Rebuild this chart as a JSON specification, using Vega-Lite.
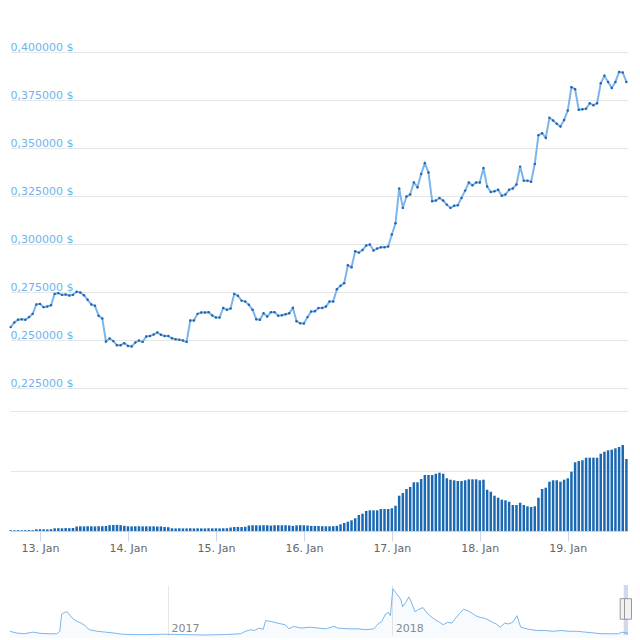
{
  "$schema": "https://vega.github.io/schema/vega-lite/v6.json",
  "padding": {"left": 6, "top": 33, "right": 12, "bottom": 0},
  "config": {
    "view": {"stroke": null},
    "font": "DejaVu Sans",
    "axis": {"labelFont": "DejaVu Sans", "labelFontSize": 11, "gridColor": "#e6e6e6", "gridWidth": 1, "minExtent": 0},
    "scale": {"continuousPadding": 0}
  },
  "datasets": {
    "main": [
      {"t":"2019-01-12T16:00","p":0.2568,"v":80000},
      {"t":"2019-01-12T17:00","p":0.2592,"v":70000},
      {"t":"2019-01-12T18:00","p":0.2606,"v":80000},
      {"t":"2019-01-12T19:00","p":0.2609,"v":70000},
      {"t":"2019-01-12T20:00","p":0.2606,"v":80000},
      {"t":"2019-01-12T21:00","p":0.2620,"v":90000},
      {"t":"2019-01-12T22:00","p":0.2637,"v":80000},
      {"t":"2019-01-12T23:00","p":0.2686,"v":170000},
      {"t":"2019-01-13T00:00","p":0.2689,"v":180000},
      {"t":"2019-01-13T01:00","p":0.2672,"v":170000},
      {"t":"2019-01-13T02:00","p":0.2675,"v":160000},
      {"t":"2019-01-13T03:00","p":0.2682,"v":180000},
      {"t":"2019-01-13T04:00","p":0.2741,"v":270000},
      {"t":"2019-01-13T05:00","p":0.2745,"v":280000},
      {"t":"2019-01-13T06:00","p":0.2736,"v":270000},
      {"t":"2019-01-13T07:00","p":0.2738,"v":290000},
      {"t":"2019-01-13T08:00","p":0.2733,"v":280000},
      {"t":"2019-01-13T09:00","p":0.2736,"v":300000},
      {"t":"2019-01-13T10:00","p":0.2752,"v":450000},
      {"t":"2019-01-13T11:00","p":0.2748,"v":470000},
      {"t":"2019-01-13T12:00","p":0.2734,"v":460000},
      {"t":"2019-01-13T13:00","p":0.2710,"v":480000},
      {"t":"2019-01-13T14:00","p":0.2686,"v":470000},
      {"t":"2019-01-13T15:00","p":0.2679,"v":460000},
      {"t":"2019-01-13T16:00","p":0.2627,"v":480000},
      {"t":"2019-01-13T17:00","p":0.2613,"v":470000},
      {"t":"2019-01-13T18:00","p":0.2493,"v":500000},
      {"t":"2019-01-13T19:00","p":0.2509,"v":580000},
      {"t":"2019-01-13T20:00","p":0.2495,"v":600000},
      {"t":"2019-01-13T21:00","p":0.2474,"v":610000},
      {"t":"2019-01-13T22:00","p":0.2474,"v":590000},
      {"t":"2019-01-13T23:00","p":0.2484,"v":520000},
      {"t":"2019-01-14T00:00","p":0.2470,"v":470000},
      {"t":"2019-01-14T01:00","p":0.2467,"v":460000},
      {"t":"2019-01-14T02:00","p":0.2488,"v":470000},
      {"t":"2019-01-14T03:00","p":0.2498,"v":480000},
      {"t":"2019-01-14T04:00","p":0.2491,"v":460000},
      {"t":"2019-01-14T05:00","p":0.2519,"v":470000},
      {"t":"2019-01-14T06:00","p":0.2522,"v":460000},
      {"t":"2019-01-14T07:00","p":0.2529,"v":470000},
      {"t":"2019-01-14T08:00","p":0.2540,"v":450000},
      {"t":"2019-01-14T09:00","p":0.2528,"v":460000},
      {"t":"2019-01-14T10:00","p":0.2522,"v":400000},
      {"t":"2019-01-14T11:00","p":0.2522,"v":380000},
      {"t":"2019-01-14T12:00","p":0.2510,"v":270000},
      {"t":"2019-01-14T13:00","p":0.2505,"v":260000},
      {"t":"2019-01-14T14:00","p":0.2502,"v":270000},
      {"t":"2019-01-14T15:00","p":0.2498,"v":260000},
      {"t":"2019-01-14T16:00","p":0.2491,"v":260000},
      {"t":"2019-01-14T17:00","p":0.2602,"v":270000},
      {"t":"2019-01-14T18:00","p":0.2602,"v":260000},
      {"t":"2019-01-14T19:00","p":0.2637,"v":270000},
      {"t":"2019-01-14T20:00","p":0.2644,"v":260000},
      {"t":"2019-01-14T21:00","p":0.2644,"v":260000},
      {"t":"2019-01-14T22:00","p":0.2646,"v":270000},
      {"t":"2019-01-14T23:00","p":0.2628,"v":260000},
      {"t":"2019-01-15T00:00","p":0.2618,"v":270000},
      {"t":"2019-01-15T01:00","p":0.2618,"v":260000},
      {"t":"2019-01-15T02:00","p":0.2668,"v":270000},
      {"t":"2019-01-15T03:00","p":0.2658,"v":280000},
      {"t":"2019-01-15T04:00","p":0.2665,"v":350000},
      {"t":"2019-01-15T05:00","p":0.2741,"v":400000},
      {"t":"2019-01-15T06:00","p":0.2731,"v":410000},
      {"t":"2019-01-15T07:00","p":0.2706,"v":400000},
      {"t":"2019-01-15T08:00","p":0.2701,"v":420000},
      {"t":"2019-01-15T09:00","p":0.2684,"v":550000},
      {"t":"2019-01-15T10:00","p":0.2658,"v":580000},
      {"t":"2019-01-15T11:00","p":0.2609,"v":570000},
      {"t":"2019-01-15T12:00","p":0.2606,"v":560000},
      {"t":"2019-01-15T13:00","p":0.2640,"v":580000},
      {"t":"2019-01-15T14:00","p":0.2623,"v":570000},
      {"t":"2019-01-15T15:00","p":0.2646,"v":540000},
      {"t":"2019-01-15T16:00","p":0.2646,"v":580000},
      {"t":"2019-01-15T17:00","p":0.2627,"v":580000},
      {"t":"2019-01-15T18:00","p":0.2630,"v":570000},
      {"t":"2019-01-15T19:00","p":0.2635,"v":580000},
      {"t":"2019-01-15T20:00","p":0.2640,"v":560000},
      {"t":"2019-01-15T21:00","p":0.2668,"v":510000},
      {"t":"2019-01-15T22:00","p":0.2599,"v":570000},
      {"t":"2019-01-15T23:00","p":0.2588,"v":580000},
      {"t":"2019-01-16T00:00","p":0.2587,"v":570000},
      {"t":"2019-01-16T01:00","p":0.2620,"v":540000},
      {"t":"2019-01-16T02:00","p":0.2649,"v":510000},
      {"t":"2019-01-16T03:00","p":0.2651,"v":500000},
      {"t":"2019-01-16T04:00","p":0.2668,"v":500000},
      {"t":"2019-01-16T05:00","p":0.2668,"v":480000},
      {"t":"2019-01-16T06:00","p":0.2675,"v":470000},
      {"t":"2019-01-16T07:00","p":0.2701,"v":470000},
      {"t":"2019-01-16T08:00","p":0.2701,"v":480000},
      {"t":"2019-01-16T09:00","p":0.2765,"v":520000},
      {"t":"2019-01-16T10:00","p":0.2783,"v":670000},
      {"t":"2019-01-16T11:00","p":0.2797,"v":800000},
      {"t":"2019-01-16T12:00","p":0.2890,"v":930000},
      {"t":"2019-01-16T13:00","p":0.2880,"v":1070000},
      {"t":"2019-01-16T14:00","p":0.2963,"v":1270000},
      {"t":"2019-01-16T15:00","p":0.2956,"v":1600000},
      {"t":"2019-01-16T16:00","p":0.2970,"v":1730000},
      {"t":"2019-01-16T17:00","p":0.2993,"v":2000000},
      {"t":"2019-01-16T18:00","p":0.2998,"v":2070000},
      {"t":"2019-01-16T19:00","p":0.2967,"v":2070000},
      {"t":"2019-01-16T20:00","p":0.2977,"v":2070000},
      {"t":"2019-01-16T21:00","p":0.2984,"v":2200000},
      {"t":"2019-01-16T22:00","p":0.2984,"v":2200000},
      {"t":"2019-01-16T23:00","p":0.2988,"v":2200000},
      {"t":"2019-01-17T00:00","p":0.3050,"v":2270000},
      {"t":"2019-01-17T01:00","p":0.3109,"v":2530000},
      {"t":"2019-01-17T02:00","p":0.3290,"v":3530000},
      {"t":"2019-01-17T03:00","p":0.3189,"v":3800000},
      {"t":"2019-01-17T04:00","p":0.3248,"v":4200000},
      {"t":"2019-01-17T05:00","p":0.3259,"v":4400000},
      {"t":"2019-01-17T06:00","p":0.3321,"v":4870000},
      {"t":"2019-01-17T07:00","p":0.3297,"v":4870000},
      {"t":"2019-01-17T08:00","p":0.3366,"v":5200000},
      {"t":"2019-01-17T09:00","p":0.3422,"v":5600000},
      {"t":"2019-01-17T10:00","p":0.3373,"v":5600000},
      {"t":"2019-01-17T11:00","p":0.3224,"v":5600000},
      {"t":"2019-01-17T12:00","p":0.3227,"v":5730000},
      {"t":"2019-01-17T13:00","p":0.3241,"v":5830000},
      {"t":"2019-01-17T14:00","p":0.3227,"v":5730000},
      {"t":"2019-01-17T15:00","p":0.3206,"v":5270000},
      {"t":"2019-01-17T16:00","p":0.3189,"v":5130000},
      {"t":"2019-01-17T17:00","p":0.3200,"v":5070000},
      {"t":"2019-01-17T18:00","p":0.3203,"v":5000000},
      {"t":"2019-01-17T19:00","p":0.3241,"v":5000000},
      {"t":"2019-01-17T20:00","p":0.3279,"v":5070000},
      {"t":"2019-01-17T21:00","p":0.3321,"v":5170000},
      {"t":"2019-01-17T22:00","p":0.3307,"v":5170000},
      {"t":"2019-01-17T23:00","p":0.3321,"v":5170000},
      {"t":"2019-01-18T00:00","p":0.3321,"v":5070000},
      {"t":"2019-01-18T01:00","p":0.3397,"v":5130000},
      {"t":"2019-01-18T02:00","p":0.3300,"v":4130000},
      {"t":"2019-01-18T03:00","p":0.3272,"v":3930000},
      {"t":"2019-01-18T04:00","p":0.3276,"v":3530000},
      {"t":"2019-01-18T05:00","p":0.3283,"v":3330000},
      {"t":"2019-01-18T06:00","p":0.3252,"v":3130000},
      {"t":"2019-01-18T07:00","p":0.3259,"v":3070000},
      {"t":"2019-01-18T08:00","p":0.3283,"v":2930000},
      {"t":"2019-01-18T09:00","p":0.3290,"v":2600000},
      {"t":"2019-01-18T10:00","p":0.3311,"v":2600000},
      {"t":"2019-01-18T11:00","p":0.3404,"v":2830000},
      {"t":"2019-01-18T12:00","p":0.3331,"v":2600000},
      {"t":"2019-01-18T13:00","p":0.3331,"v":2470000},
      {"t":"2019-01-18T14:00","p":0.3325,"v":2400000},
      {"t":"2019-01-18T15:00","p":0.3418,"v":2470000},
      {"t":"2019-01-18T16:00","p":0.3568,"v":3330000},
      {"t":"2019-01-18T17:00","p":0.3578,"v":4200000},
      {"t":"2019-01-18T18:00","p":0.3554,"v":4330000},
      {"t":"2019-01-18T19:00","p":0.3658,"v":4930000},
      {"t":"2019-01-18T20:00","p":0.3644,"v":5070000},
      {"t":"2019-01-18T21:00","p":0.3627,"v":5070000},
      {"t":"2019-01-18T22:00","p":0.3613,"v":4930000},
      {"t":"2019-01-18T23:00","p":0.3647,"v":5130000},
      {"t":"2019-01-19T00:00","p":0.3696,"v":5270000},
      {"t":"2019-01-19T01:00","p":0.3818,"v":5930000},
      {"t":"2019-01-19T02:00","p":0.3807,"v":6870000},
      {"t":"2019-01-19T03:00","p":0.3700,"v":7000000},
      {"t":"2019-01-19T04:00","p":0.3703,"v":7070000},
      {"t":"2019-01-19T05:00","p":0.3706,"v":7330000},
      {"t":"2019-01-19T06:00","p":0.3734,"v":7330000},
      {"t":"2019-01-19T07:00","p":0.3724,"v":7330000},
      {"t":"2019-01-19T08:00","p":0.3734,"v":7330000},
      {"t":"2019-01-19T09:00","p":0.3838,"v":7730000},
      {"t":"2019-01-19T10:00","p":0.3877,"v":7930000},
      {"t":"2019-01-19T11:00","p":0.3845,"v":8070000},
      {"t":"2019-01-19T12:00","p":0.3814,"v":8130000},
      {"t":"2019-01-19T13:00","p":0.3845,"v":8270000},
      {"t":"2019-01-19T14:00","p":0.3897,"v":8400000},
      {"t":"2019-01-19T15:00","p":0.3894,"v":8600000},
      {"t":"2019-01-19T16:00","p":0.3845,"v":7200000}
    ],
    "nav": [
      {"d":"2016-04-19T00:00","p":0.565},
      {"d":"2016-04-29T00:00","p":0.425},
      {"d":"2016-05-12T00:00","p":0.355},
      {"d":"2016-05-26T00:00","p":0.495},
      {"d":"2016-06-08T00:00","p":0.39},
      {"d":"2016-06-21T00:00","p":0.355},
      {"d":"2016-07-04T00:00","p":0.355},
      {"d":"2016-07-09T00:00","p":0.565},
      {"d":"2016-07-12T00:00","p":2.035},
      {"d":"2016-07-17T00:00","p":2.175},
      {"d":"2016-07-21T00:00","p":2.245},
      {"d":"2016-07-25T00:00","p":1.965},
      {"d":"2016-07-31T00:00","p":1.615},
      {"d":"2016-08-06T00:00","p":1.405},
      {"d":"2016-08-13T00:00","p":1.265},
      {"d":"2016-08-19T00:00","p":1.055},
      {"d":"2016-08-26T00:00","p":0.705},
      {"d":"2016-09-08T00:00","p":0.565},
      {"d":"2016-09-21T00:00","p":0.495},
      {"d":"2016-10-04T00:00","p":0.425},
      {"d":"2016-10-18T00:00","p":0.32},
      {"d":"2016-11-07T00:00","p":0.285},
      {"d":"2016-11-27T00:00","p":0.285},
      {"d":"2016-12-25T00:00","p":0.32},
      {"d":"2017-01-27T00:00","p":0.285},
      {"d":"2017-03-01T00:00","p":0.25},
      {"d":"2017-04-03T00:00","p":0.285},
      {"d":"2017-04-29T00:00","p":0.355},
      {"d":"2017-05-07T00:00","p":0.565},
      {"d":"2017-05-16T00:00","p":0.705},
      {"d":"2017-05-22T00:00","p":0.635},
      {"d":"2017-05-29T00:00","p":0.845},
      {"d":"2017-06-05T00:00","p":0.74},
      {"d":"2017-06-09T00:00","p":1.475},
      {"d":"2017-06-18T00:00","p":1.405},
      {"d":"2017-06-28T00:00","p":1.265},
      {"d":"2017-07-11T00:00","p":1.125},
      {"d":"2017-07-17T00:00","p":0.775},
      {"d":"2017-07-24T00:00","p":0.985},
      {"d":"2017-08-06T00:00","p":0.845},
      {"d":"2017-08-19T00:00","p":0.915},
      {"d":"2017-09-02T00:00","p":0.845},
      {"d":"2017-09-15T00:00","p":0.775},
      {"d":"2017-09-28T00:00","p":0.985},
      {"d":"2017-10-04T00:00","p":0.845},
      {"d":"2017-10-24T00:00","p":0.775},
      {"d":"2017-11-06T00:00","p":0.775},
      {"d":"2017-11-19T00:00","p":0.705},
      {"d":"2017-12-02T00:00","p":0.775},
      {"d":"2017-12-09T00:00","p":1.195},
      {"d":"2017-12-15T00:00","p":1.405},
      {"d":"2017-12-21T00:00","p":2.035},
      {"d":"2017-12-26T00:00","p":2.175},
      {"d":"2017-12-29T00:00","p":1.895},
      {"d":"2018-01-02T00:00","p":4.205},
      {"d":"2018-01-08T00:00","p":3.785},
      {"d":"2018-01-15T00:00","p":3.295},
      {"d":"2018-01-18T00:00","p":2.665},
      {"d":"2018-01-23T00:00","p":3.015},
      {"d":"2018-01-28T00:00","p":3.505},
      {"d":"2018-02-01T00:00","p":3.085},
      {"d":"2018-02-07T00:00","p":2.245},
      {"d":"2018-02-14T00:00","p":2.455},
      {"d":"2018-02-20T00:00","p":2.595},
      {"d":"2018-02-27T00:00","p":2.105},
      {"d":"2018-03-05T00:00","p":1.825},
      {"d":"2018-03-12T00:00","p":1.545},
      {"d":"2018-03-19T00:00","p":1.335},
      {"d":"2018-03-25T00:00","p":1.125},
      {"d":"2018-04-01T00:00","p":1.335},
      {"d":"2018-04-08T00:00","p":1.265},
      {"d":"2018-04-14T00:00","p":1.685},
      {"d":"2018-04-21T00:00","p":2.105},
      {"d":"2018-04-27T00:00","p":2.455},
      {"d":"2018-05-04T00:00","p":2.315},
      {"d":"2018-05-11T00:00","p":2.105},
      {"d":"2018-05-17T00:00","p":1.895},
      {"d":"2018-05-24T00:00","p":1.755},
      {"d":"2018-05-31T00:00","p":1.685},
      {"d":"2018-06-06T00:00","p":1.545},
      {"d":"2018-06-13T00:00","p":1.335},
      {"d":"2018-06-19T00:00","p":1.195},
      {"d":"2018-06-26T00:00","p":0.915},
      {"d":"2018-07-03T00:00","p":1.265},
      {"d":"2018-07-09T00:00","p":1.195},
      {"d":"2018-07-16T00:00","p":1.335},
      {"d":"2018-07-23T00:00","p":1.895},
      {"d":"2018-07-29T00:00","p":0.915},
      {"d":"2018-08-11T00:00","p":0.74},
      {"d":"2018-08-24T00:00","p":0.635},
      {"d":"2018-09-07T00:00","p":0.635},
      {"d":"2018-09-20T00:00","p":0.565},
      {"d":"2018-10-03T00:00","p":0.635},
      {"d":"2018-10-16T00:00","p":0.565},
      {"d":"2018-10-29T00:00","p":0.565},
      {"d":"2018-11-11T00:00","p":0.495},
      {"d":"2018-11-25T00:00","p":0.425},
      {"d":"2018-12-08T00:00","p":0.355},
      {"d":"2018-12-21T00:00","p":0.355},
      {"d":"2019-01-04T00:00","p":0.355},
      {"d":"2019-01-10T00:00","p":0.495},
      {"d":"2019-01-19T16:00","p":0.39}
    ],
    "range": [{"s":"2019-01-12T16:00","e":"2019-01-19T16:00"}],
    "handles": [{"h":"2019-01-12T16:00"},{"h":"2019-01-19T16:00"}]
  },
  "vconcat": [
    {
      "vconcat": [
        {
          "width": 618,
          "height": 378,
          "data": {"name": "main"},
          "encoding": {
            "x": {"field": "t", "type": "temporal",
                  "scale": {"domain": [{"year":2019,"month":1,"date":12,"hours":15,"minutes":49},{"year":2019,"month":1,"date":19,"hours":16,"minutes":26}], "padding": 0},
                  "axis": null},
            "y": {"field": "p", "type": "quantitative",
                  "scale": {"domain": [0.2131, 0.41], "nice": false, "zero": false},
                  "axis": {"orient": "left", "values": [0.225, 0.25, 0.275, 0.3, 0.325, 0.35, 0.375, 0.4],
                           "labelExpr": "replace(format(datum.value, '.6f'), '.', ',') + ' $'",
                           "labelAlign": "left", "labelBaseline": "alphabetic", "labelPadding": 0, "labelOffset": -2,
                           "ticks": false, "tickSize": 0, "domain": false, "grid": true, "minExtent": 0, "title": null,
                           "labelColor": "#6db3ea", "labelOverlap": false, "labelFlush": false, "labelBound": false}}
          },
          "layer": [
            {"mark": {"type": "line", "color": "#7cb5ec", "strokeWidth": 2}},
            {"mark": {"type": "point", "filled": true, "color": "#2263ab", "size": 6, "opacity": 1}}
          ]
        },
        {
          "width": 618,
          "height": 120,
          "data": {"name": "main"},
          "mark": {"type": "bar", "color": "#1b69b2", "size": 2.5},
          "encoding": {
            "x": {"field": "t", "type": "temporal",
                  "scale": {"domain": [{"year":2019,"month":1,"date":12,"hours":15,"minutes":49},{"year":2019,"month":1,"date":19,"hours":16,"minutes":26}], "padding": 0},
                  "axis": {"format": "%e. %b", "tickCount": {"interval": "day", "step": 1}, "title": null,
                           "tickSize": 10, "tickColor": "#ccd6eb", "domainColor": "#ccd6eb",
                           "labelColor": "#666666", "labelPadding": 1, "grid": false, "labelFlush": false}},
            "y": {"field": "v", "type": "quantitative",
                  "scale": {"domain": [0, 12000000], "nice": false},
                  "axis": {"values": [6000000, 12000000], "grid": true, "labels": false, "ticks": false, "tickSize": 0, "domain": false, "minExtent": 0, "title": null}}
          }
        }
      ],
      "spacing": 0,
      "resolve": {"scale": {"y": "independent"}}
    },
    {
      "width": 618,
      "height": 50,
      "encoding": {
        "x": {"field": "d", "type": "temporal",
              "scale": {"domain": [{"year":2016,"month":4,"date":19},{"year":2019,"month":1,"date":19,"hours":16}], "padding": 0},
              "axis": {"values": [{"year":2017,"month":1,"date":1},{"year":2018,"month":1,"date":1}], "title": null,
                       "format": "%Y", "grid": true, "gridColor": "#e6e6e6", "ticks": false, "tickSize": 0, "domain": false,
                       "labelAlign": "left", "labelBaseline": "alphabetic", "labelPadding": -4, "labelOffset": 3,
                       "labelColor": "#888888", "labelFlush": false, "labelOverlap": false, "minExtent": 0}}
      },
      "layer": [
        {
          "data": {"name": "nav"},
          "mark": {"type": "area", "color": "#7cb5ec", "opacity": 0.06},
          "encoding": {
            "y": {"field": "p", "type": "quantitative", "scale": {"domain": [0.25, 4.52], "nice": false, "zero": false}, "axis": null}
          }
        },
        {
          "data": {"name": "nav"},
          "mark": {"type": "line", "color": "#7cb5ec", "strokeWidth": 1},
          "encoding": {
            "y": {"field": "p", "type": "quantitative"}
          }
        },
        {
          "data": {"values": [{}]},
          "mark": {"type": "rule", "color": "#cccccc", "strokeWidth": 1},
          "encoding": {"y": {"datum": 4.52, "type": "quantitative"}}
        },
        {
          "data": {"name": "range"},
          "mark": {"type": "rect", "color": "#6685c2", "opacity": 0.3},
          "encoding": {
            "x": {"field": "s", "type": "temporal"},
            "x2": {"field": "e"},
            "y": {"datum": 0.25, "type": "quantitative"},
            "y2": {"datum": 4.52}
          }
        },
        {
          "data": {"name": "handles"},
          "mark": {"type": "bar", "fill": "#f2f2f2", "stroke": "#999999", "strokeWidth": 1, "size": 7},
          "encoding": {
            "x": {"field": "h", "type": "temporal"},
            "y": {"datum": 1.6, "type": "quantitative"},
            "y2": {"datum": 3.35}
          }
        }
      ]
    }
  ],
  "spacing": 32,
  "resolve": {"scale": {"x": "independent", "y": "independent"}}
}
